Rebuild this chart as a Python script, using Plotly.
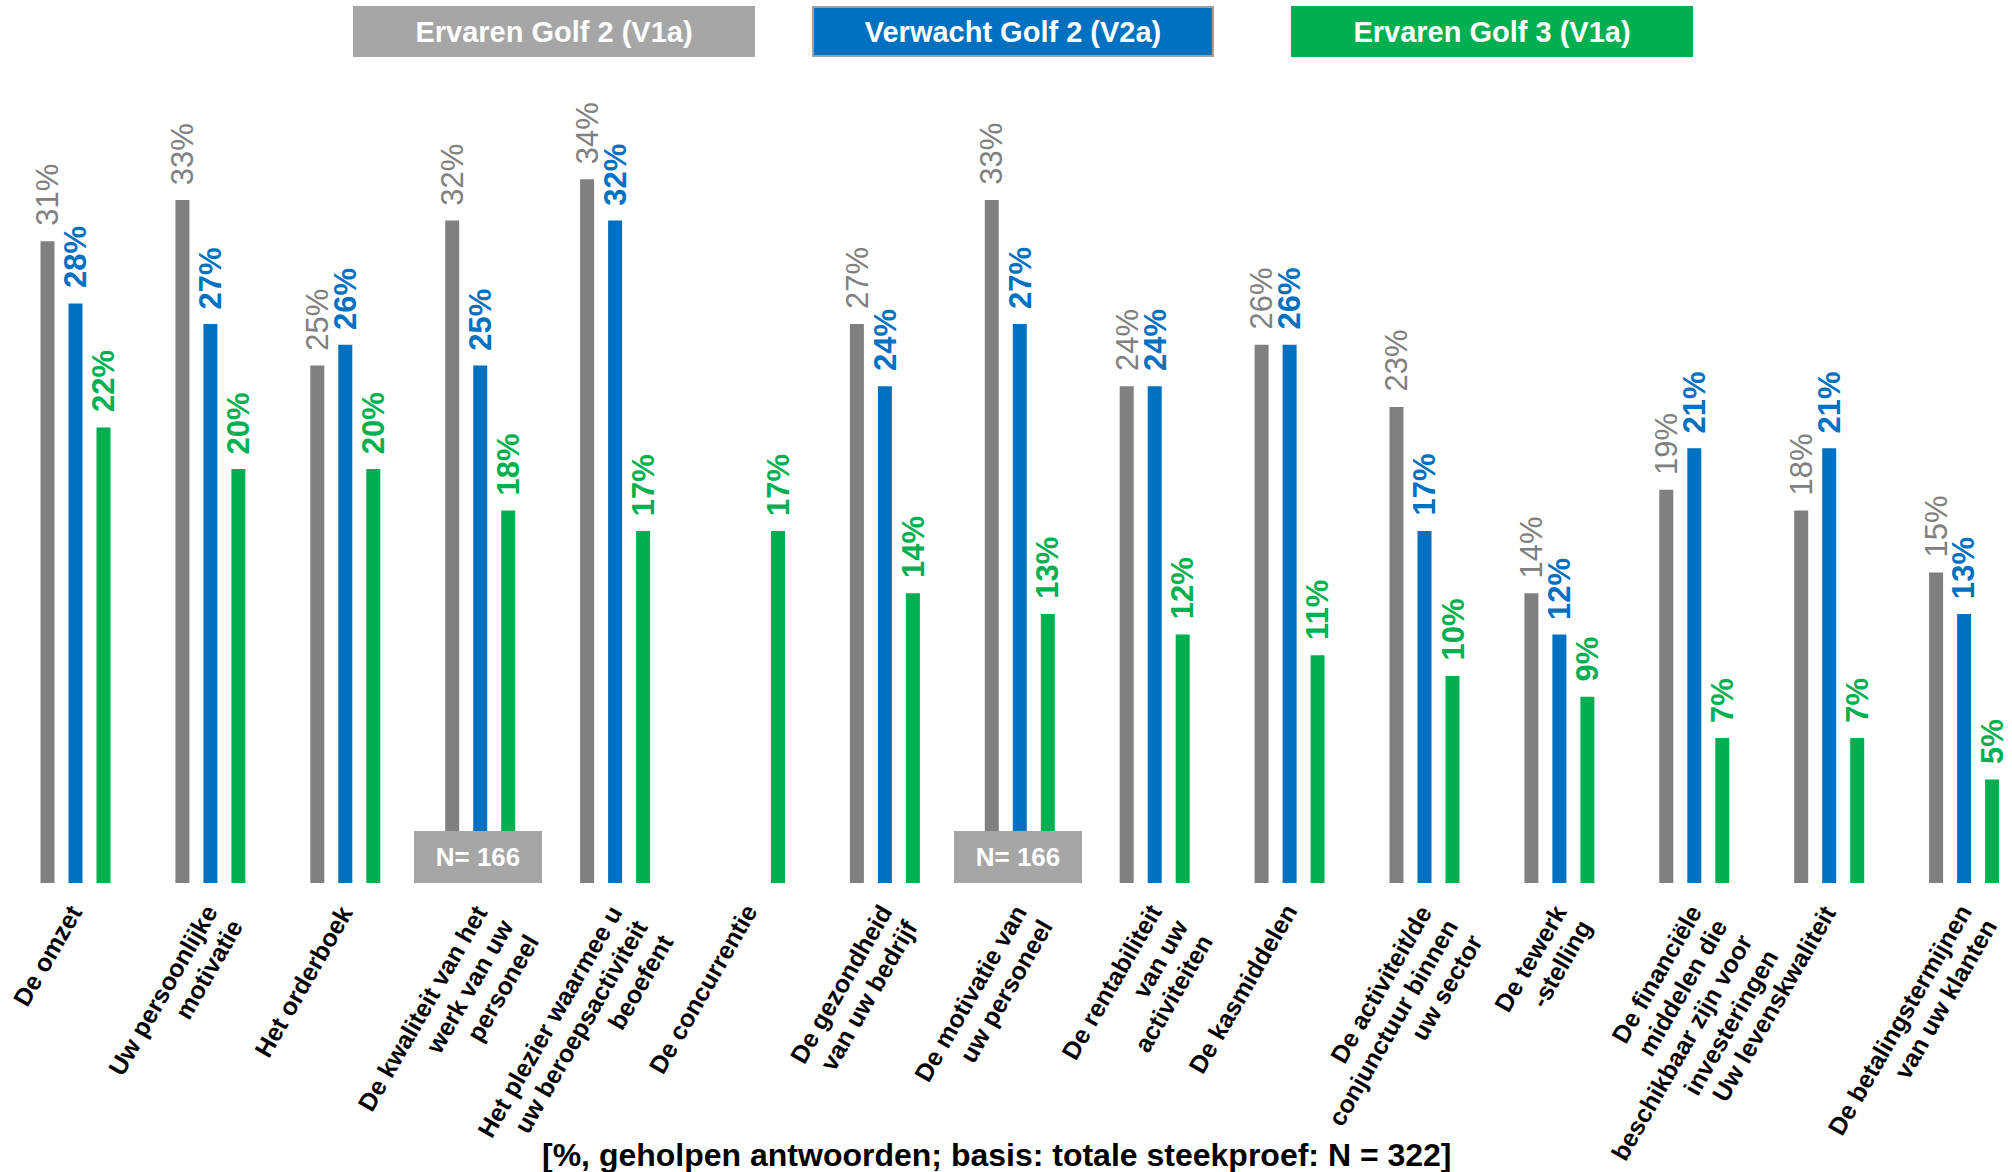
import plotly.graph_objects as go

# ---------------- data ----------------
categories = [
    "De omzet",
    "Uw persoonlijke<br>motivatie",
    "Het orderboek",
    "De kwaliteit van het<br>werk van uw<br>personeel",
    "Het plezier waarmee u<br>uw beroepsactiviteit<br>beoefent",
    "De concurrentie",
    "De gezondheid<br>van uw bedrijf",
    "De motivatie van<br>uw personeel",
    "De rentabiliteit<br>van uw<br>activiteiten",
    "De kasmiddelen",
    "De activiteit/de<br>conjunctuur binnen<br>uw sector",
    "De tewerk<br>-stelling",
    "De financiële<br>middelen die<br>beschikbaar zijn voor<br>investeringen",
    "Uw levenskwaliteit",
    "De betalingstermijnen<br>van uw klanten",
]
ervaren_golf2 = [31, 33, 25, 32, 34, None, 27, 33, 24, 26, 23, 14, 19, 18, 15]
verwacht_golf2 = [28, 27, 26, 25, 32, None, 24, 27, 24, 26, 17, 12, 21, 21, 13]
ervaren_golf3 = [22, 20, 20, 18, 17, 17, 14, 13, 12, 11, 10, 9, 7, 7, 5]
series_names = ["Ervaren Golf 2 (V1a)", "Verwacht Golf 2 (V2a)", "Ervaren Golf 3 (V1a)"]
subsample_groups = [3, 7]
subsample_label = "N= 166"
caption = "[%, geholpen antwoorden; basis: totale steekproef: N = 322]"

# ---------------- styling / layout ----------------
W, H = 2012, 1172
FONT = "Liberation Sans, Arial, sans-serif"
bar_colors = ["#808080", "#0070C0", "#00B050"]
label_colors = ["#808080", "#0070C0", "#00B050"]
label_weights = ["normal", "bold", "bold"]
legend_bg = ["#A6A6A6", "#0070C0", "#00B050"]
legend_border = ["#A6A6A6", "#A0A0A0", "#00B050"]
legend_centers_px = [553.5, 1013, 1492]

GROUP_PX = 134.9
FIRST_CENTER_PX = 75.5
PX_PER_PCT = 20.7
BASE_Y = 883
Y_MAX = 40
plot_h = Y_MAX * PX_PER_PCT
mt = BASE_Y - plot_h
mb = H - BASE_Y
x0 = -FIRST_CENTER_PX / GROUP_PX
x1 = x0 + W / GROUP_PX
SLOT_PX = 28

VAL_FS = 31
CAT_FS = 25
CAT_LS = 29.5            # line spacing (perpendicular to text)
CAT_BOX1 = 1.117 * CAT_FS
SIN60, COS60 = 0.866, 0.5


def py(px_y):
    """pixel y -> paper y"""
    return (BASE_Y - px_y) / plot_h


fig = go.Figure()
all_series = [ervaren_golf2, verwacht_golf2, ervaren_golf3]
for name, vals, col in zip(series_names, all_series, bar_colors):
    fig.add_trace(go.Bar(x=categories, y=vals, name=name, marker=dict(color=col, line=dict(width=0)),
                         showlegend=False, hoverinfo="skip"))

annotations = []
# value labels
for j, (vals, col, wt) in enumerate(zip(all_series, label_colors, label_weights)):
    for cat, v in zip(categories, vals):
        if v is None:
            continue
        annotations.append(dict(
            x=cat, y=v, xref="x", yref="y", text=f"{v}%", showarrow=False,
            textangle=-90, xanchor="center", yanchor="bottom",
            height=27, valign="middle", borderpad=0, borderwidth=0,
            xshift=(j - 1) * SLOT_PX, yshift=15,
            font=dict(family=FONT, size=VAL_FS, color=col, weight=wt),
        ))

# category labels (rotated, right-aligned lines), one annotation per line
for cat in categories:
    for k, line in enumerate(cat.split("<br>")):
        annotations.append(dict(
            x=cat, y=0, xref="x", yref="y", text=line, showarrow=False,
            textangle=-60, xanchor="right", yanchor="top",
            borderpad=0, borderwidth=0,
            xshift=-11.6 + SIN60 * CAT_BOX1 + k * CAT_LS * SIN60,
            yshift=-17 - k * CAT_LS * COS60,
            font=dict(family=FONT, size=CAT_FS, color="black", weight="bold"),
        ))

for gi in subsample_groups:
    annotations.append(dict(
        x=categories[gi], y=0, xref="x", yref="y", text=subsample_label, showarrow=False,
        xanchor="center", yanchor="bottom", width=128, height=52, borderpad=0, borderwidth=0,
        bgcolor="#A6A6A6", xshift=-2,
        font=dict(family=FONT, size=26, color="white", weight="bold"),
    ))

for name, bg, bc, cx in zip(series_names, legend_bg, legend_border, legend_centers_px):
    annotations.append(dict(
        x=cx / W, y=py(31.5), xref="paper", yref="paper", text=name, showarrow=False,
        xanchor="center", yanchor="middle", width=398, height=47, borderpad=0,
        bgcolor=bg, bordercolor=bc, borderwidth=2,
        font=dict(family=FONT, size=29, color="white", weight="bold"),
    ))

annotations.append(dict(
    x=997 / W, y=py(1155), xref="paper", yref="paper", text=caption, showarrow=False,
    xanchor="center", yanchor="middle",
    font=dict(family=FONT, size=32, color="black", weight="bold"),
))

fig.update_layout(
    width=W, height=H,
    margin=dict(l=0, r=0, t=mt, b=mb, pad=0),
    paper_bgcolor="white", plot_bgcolor="white",
    barmode="group", bargap=1 - 3 * SLOT_PX / GROUP_PX, bargroupgap=0.5,
    annotations=annotations,
    xaxis=dict(range=[x0, x1], type="category", showgrid=False, zeroline=False, showline=False,
               ticks="", showticklabels=False),
    yaxis=dict(range=[0, Y_MAX], visible=False, showgrid=False, zeroline=False),
)

fig.write_html(
    "out.html",
    config={"displayModeBar": False},
    post_script="document.body.style.margin='0px';document.body.style.overflow='hidden';",
)
